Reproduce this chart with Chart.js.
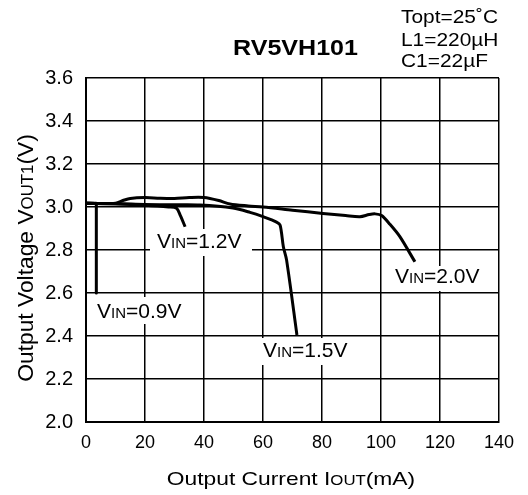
<!DOCTYPE html>
<html>
<head>
<meta charset="utf-8">
<script src="https://cdn.jsdelivr.net/npm/chart.js@4/dist/chart.umd.min.js"></script>
<style>
  html, body { margin: 0; padding: 0; background: #fff; }
  #wrap { width: 528px; height: 495px; }
</style>
</head>
<body>
<div id="wrap"><canvas id="chartCanvas" width="528" height="495"></canvas></div>
<script>
// ejes
const xTicks = [0, 20, 40, 60, 80, 100, 120, 140];
const yTicks = [2.0, 2.2, 2.4, 2.6, 2.8, 3.0, 3.2, 3.4, 3.6];

// curvas (IOUT mA / VOUT V)
const iout09 = [0, 3.5, 3.5];
const vout09 = [3.017, 3.017, 2.6];

const iout12 = [0, 10, 20, 28, 30.7, 32, 33.6];
const vout12 = [3.017, 3.014, 3.008, 3.0, 2.994, 2.96, 2.908];

const iout15 = [0, 10, 20, 30, 38.6, 49.8, 55.6, 60, 64.6, 65.8, 66.9, 68, 71.5];
const vout15 = [3.017, 3.016, 3.012, 3.01, 3.009, 2.995, 2.975, 2.955, 2.93, 2.916, 2.815, 2.753, 2.405];

const iout20 = [0, 10, 12.5, 15, 20, 25, 30, 35, 40, 45, 48.8, 55, 60, 70, 80.3, 88, 92.9, 96, 98, 100.2, 103, 106.4, 111.5];
const vout20 = [3.017, 3.018, 3.03, 3.04, 3.044, 3.041, 3.04, 3.044, 3.044, 3.03, 3.014, 3.005, 3.0, 2.985, 2.97, 2.96, 2.955, 2.965, 2.968, 2.96, 2.92, 2.862, 2.745];

// etiquetas
const curveLabels = [
  { v: 'V', sub: 'IN', rest: '=0.9V', x: 97, y: 318, box: [92, 297, 94, 27] },
  { v: 'V', sub: 'IN', rest: '=1.2V', x: 157, y: 248, box: [150, 229, 102, 27] },
  { v: 'V', sub: 'IN', rest: '=1.5V', x: 263, y: 357, box: [258, 338, 104, 27] },
  { v: 'V', sub: 'IN', rest: '=2.0V', x: 395, y: 283, box: [390, 266, 94, 25] }
];

const FONT = '"Liberation Sans", Arial, sans-serif';

function toPoints(xs, ys) {
  return xs.map((x, i) => ({ x: x, y: ys[i] }));
}

function serie(xs, ys, tension) {
  return {
    data: toPoints(xs, ys),
    showLine: true,
    borderColor: '#000',
    borderWidth: 3,
    pointRadius: 0,
    tension: tension,
    borderCapStyle: 'butt',
    borderJoinStyle: 'round'
  };
}

// texto con parte pequeña (subíndice en línea base)
function drawParts(ctx, parts, x, y) {
  let cx = x;
  parts.forEach(p => {
    ctx.font = p[1] + 'px ' + FONT;
    ctx.fillText(p[0], cx, y);
    cx += ctx.measureText(p[0]).width;
  });
  return cx - x;
}

function partsWidth(ctx, parts) {
  let w = 0;
  parts.forEach(p => { ctx.font = p[1] + 'px ' + FONT; w += ctx.measureText(p[0]).width; });
  return w;
}

const textPlugin = {
  id: 'textos',
  afterDraw(chart) {
    const ctx = chart.ctx;
    ctx.save();
    ctx.fillStyle = '#000';
    ctx.textBaseline = 'alphabetic';
    ctx.textAlign = 'left';

    // etiquetas de curvas
    curveLabels.forEach(l => {
      ctx.fillStyle = '#fff';
      ctx.fillRect(l.box[0], l.box[1], l.box[2], l.box[3]);
      ctx.fillStyle = '#000';
      drawParts(ctx, [[l.v, 21], [l.sub, 15], [l.rest, 21]], l.x, l.y);
    });

    // titulo
    ctx.save();
    ctx.translate(233, 55);
    ctx.scale(1.14, 1);
    ctx.font = 'bold 22px ' + FONT;
    ctx.fillText('RV5VH101', 0, 0);
    ctx.restore();

    // condiciones
    const cond = ['Topt=25\u02DAC', 'L1=220\u00B5H', 'C1=22\u00B5F'];
    const condY = [23, 46, 67];
    cond.forEach((t, i) => {
      ctx.save();
      ctx.translate(401, condY[i]);
      ctx.scale(1.1, 1);
      ctx.font = '19px ' + FONT;
      ctx.fillText(t, 0, 0);
      ctx.restore();
    });

    // titulo eje x
    const xParts = [['Output Current I', 19], ['OUT', 14], ['(mA)', 19]];
    let w = partsWidth(ctx, xParts) * 1.2;
    ctx.save();
    ctx.translate(291 - w / 2, 485);
    ctx.scale(1.2, 1);
    drawParts(ctx, xParts, 0, 0);
    ctx.restore();

    // titulo eje y
    const yParts = [['Output Voltage V', 19], ['OUT1', 14], ['(V)', 19]];
    w = partsWidth(ctx, yParts) * 1.2;
    ctx.save();
    ctx.translate(33, 258);
    ctx.rotate(-Math.PI / 2);
    ctx.translate(-w / 2, 0);
    ctx.scale(1.2, 1.15);
    drawParts(ctx, yParts, 0, 0);
    ctx.restore();

    ctx.restore();
  }
};

const chart = new Chart(document.getElementById('chartCanvas').getContext('2d'), {
  type: 'scatter',
  data: {
    datasets: [
      serie(iout09, vout09, 0),
      serie(iout12, vout12, 0.3),
      serie(iout15, vout15, 0.3),
      serie(iout20, vout20, 0.3)
    ]
  },
  options: {
    responsive: false,
    animation: false,
    layout: { padding: { top: 78, right: 29, left: 0, bottom: 0 } },
    plugins: {
      legend: { display: false },
      tooltip: { enabled: false }
    },
    scales: {
      x: {
        type: 'linear',
        min: 0,
        max: 140,
        afterBuildTicks: s => { s.ticks = xTicks.map(v => ({ value: v })); },
        afterFit: s => { s.height = 73; },
        grid: { color: '#000', lineWidth: 1.5, drawTicks: false },
        border: { color: '#000', width: 2 },
        ticks: { color: '#000', font: { family: FONT, size: 18 }, padding: 10, maxRotation: 0 }
      },
      y: {
        type: 'linear',
        min: 2.0,
        max: 3.6,
        afterBuildTicks: s => { s.ticks = yTicks.map(v => ({ value: v })); },
        afterFit: s => { s.width = 86; },
        grid: { color: '#000', lineWidth: 1.5, drawTicks: false },
        border: { color: '#000', width: 2 },
        ticks: {
          color: '#000',
          font: { family: FONT, size: 20 },
          padding: 13,
          callback: v => v.toFixed(1)
        }
      }
    }
  },
  plugins: [textPlugin]
});
</script>
</body>
</html>
